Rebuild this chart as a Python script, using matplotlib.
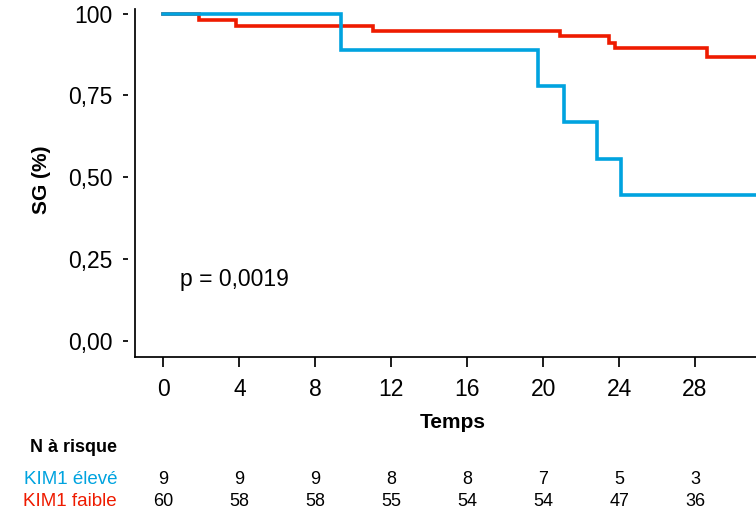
import matplotlib
matplotlib.use("Agg")
import matplotlib.pyplot as plt
from matplotlib.transforms import blended_transform_factory

plt.rcParams["font.family"] = ["Liberation Sans", "DejaVu Sans"]

# Kaplan-Meier step curves (time in months, survival fraction)
high_times = [0, 9.33, 19.73, 21.08, 22.85, 24.12, 32]
high_surv = [1.0, 0.889, 0.778, 0.667, 0.556, 0.444, 0.444]

low_times = [0, 1.89, 3.83, 11.03, 20.9, 23.47, 23.79, 28.65, 32]
low_surv = [1.0, 0.980, 0.963, 0.948, 0.930, 0.910, 0.895, 0.866, 0.866]

# Number at risk table
risk_times = [0, 4, 8, 12, 16, 20, 24, 28]
risk_high = [9, 9, 9, 8, 8, 7, 5, 3]
risk_low = [60, 58, 58, 55, 54, 54, 47, 36]

y_ticks = [0.0, 0.25, 0.50, 0.75, 1.0]
y_tick_labels = ["0,00", "0,25", "0,50", "0,75", "100"]
x_ticks = [0, 4, 8, 12, 16, 20, 24, 28]

group_labels = ["KIM1 élevé", "KIM1 faible"]
blue = "#00A3DF"
red = "#EE1B00"

W, H = 756, 512
fig = plt.figure(figsize=(W / 100, H / 100), dpi=100)
ax = fig.add_axes([135 / W, 155 / H, (771 - 135) / W, 348 / H])

ax.step(low_times, low_surv, where="post", color=red, lw=2.6, solid_joinstyle="miter")
ax.step(high_times, high_surv, where="post", color=blue, lw=2.6, solid_joinstyle="miter")

ax.set_xlim(-1.5, 32)
ax.set_ylim(-0.05, 1.014)

for s in ("top", "right"):
    ax.spines[s].set_visible(False)
ax.spines["bottom"].set_linewidth(1.25)
# y ticks sit slightly away from the axis line
ax.spines["left"].set_position(("outward", 5.0))
ax.spines["left"].set_visible(False)
ax.plot([0, 0], [0, 1], transform=ax.transAxes, color="black", lw=1.25,
        clip_on=False, solid_capstyle="projecting")

ax.set_xticks(x_ticks)
ax.set_xticklabels([str(t) for t in x_ticks])
ax.set_yticks(y_ticks)
ax.set_yticklabels(y_tick_labels)
ax.tick_params(axis="x", length=7.2, width=1.25, pad=8, labelsize=16.5)
ax.tick_params(axis="y", length=3.6, width=1.25, pad=7.5, labelsize=16.5)

ax.set_xlabel("Temps", fontsize=15, fontweight="bold")
ax.xaxis.set_label_coords(0.5, -0.162)
ax.set_ylabel("SG (%)", fontsize=15, fontweight="bold", va="center")
ax.yaxis.set_label_coords(-0.1475, 0.509)

ax.text(0.86, 0.166, "p = 0,0019", fontsize=16.5, ha="left", va="baseline")

# Number-at-risk table under the plot
tr = blended_transform_factory(ax.transData, fig.transFigure)
fig.text(117 / W, 1 - 448 / H, "N à risque", fontsize=13, fontweight="bold",
         ha="right", va="center")
row_y = [1 - 479 / H, 1 - 501 / H]
for label, color, y in zip(group_labels, [blue, red], row_y):
    fig.text(117 / W, y, label, fontsize=13.5, color=color, ha="right", va="center")
for t, nh, nl in zip(risk_times, risk_high, risk_low):
    ax.text(t, row_y[0], str(nh), transform=tr, fontsize=13, ha="center",
            va="center", clip_on=False)
    ax.text(t, row_y[1], str(nl), transform=tr, fontsize=13, ha="center",
            va="center", clip_on=False)

fig.savefig("out.png", dpi=100)
